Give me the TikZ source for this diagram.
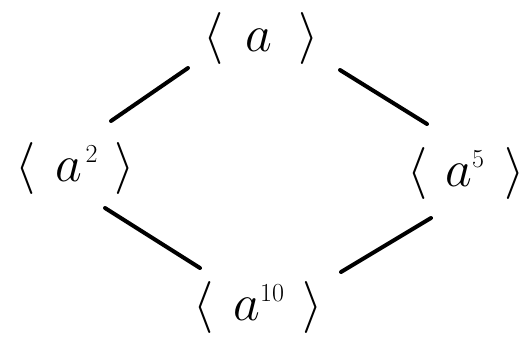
\RequirePackage{fix-cm}
\documentclass[tikz,border=0pt]{standalone}
\begin{document}
\begin{tikzpicture}[x=1pt,y=-1pt,
  lbl/.style={inner sep=3pt, font=\fontsize{52}{60}\selectfont},
  edge/.style={line width=4pt, line cap=round}]
\useasboundingbox (0,0) rectangle (532,341);
\node[lbl] (top) at (261,38) {$\langle\hspace{22pt}a\hspace{26pt}\rangle$};
\node[lbl] (left) at (75,168) {$\langle\hspace{20pt}a^{\hspace{3pt}\scriptscriptstyle 2}\hspace{16pt}\rangle$};
\node[lbl] (right) at (466,173) {$\langle\hspace{18pt}a^{\scriptscriptstyle 5}\hspace{20pt}\rangle$};
\node[lbl] (bottom) at (258,307) {$\langle\hspace{20pt}a^{\scriptscriptstyle 10}\hspace{18pt}\rangle$};
\draw[edge] ([shift={(-73,30)}]top.center) -- ([shift={(36,-47)}]left.center);
\draw[edge] ([shift={(79,32)}]top.center) -- ([shift={(-39,-49)}]right.center);
\draw[edge] ([shift={(30,40)}]left.center) -- ([shift={(-58,-39)}]bottom.center);
\draw[edge] ([shift={(83,-35)}]bottom.center) -- ([shift={(-35,45)}]right.center);
\end{tikzpicture}
\end{document}
